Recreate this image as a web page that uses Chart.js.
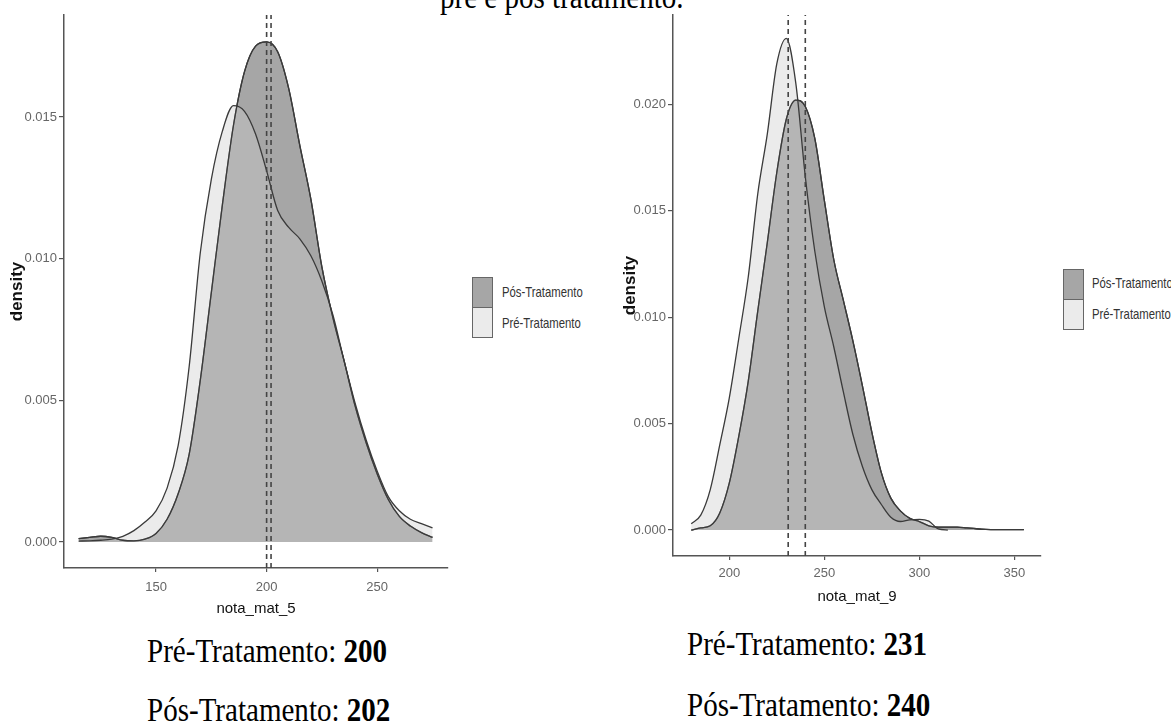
<!DOCTYPE html>
<html>
<head>
<meta charset="utf-8">
<script src="https://cdn.jsdelivr.net/npm/chart.js@4.4.1/dist/chart.umd.min.js"></script>
<style>
  body { margin: 0; width: 1171px; height: 725px; background: #fff; position: relative; overflow: hidden; }
  .caixa { position: absolute; top: 0; }
  .serif { position: absolute; font-family: 'Liberation Serif', 'Times New Roman', serif; font-size: 33px; line-height: 33px;
           color: #000; white-space: nowrap; transform: scaleX(0.88); transform-origin: left top; }
  .chave { position: absolute; width: 21px; height: 31px; box-sizing: border-box; border: 1.5px solid #666; }
  .rotulo { position: absolute; font-family: 'Liberation Sans', Arial, sans-serif; font-size: 14.5px; line-height: 31px;
            color: #333; white-space: nowrap; transform: scaleX(0.78); transform-origin: left top; }
</style>
</head>
<body>
<div class="serif" style="left:440px; top:-19px">pré e pós tratamento.</div>

<div class="caixa" style="left:0px"><canvas id="grafico5" width="460" height="620"></canvas></div>
<div class="caixa" style="left:600px"><canvas id="grafico9" width="455" height="610"></canvas></div>

<!-- legendas (estilo ggplot) -->
<div class="chave" style="left:472px; top:277px; background:#a6a6a6"></div>
<div class="chave" style="left:472px; top:307px; background:#ebebeb"></div>
<div class="rotulo" style="left:502px; top:277px">Pós-Tratamento</div>
<div class="rotulo" style="left:502px; top:308px">Pré-Tratamento</div>

<div class="chave" style="left:1063px; top:269px; background:#a6a6a6"></div>
<div class="chave" style="left:1063px; top:299px; background:#ebebeb"></div>
<div class="rotulo" style="left:1092px; top:268px">Pós-Tratamento</div>
<div class="rotulo" style="left:1092px; top:299px">Pré-Tratamento</div>

<div class="serif" id="pre5" style="left:147px; top:635px"></div>
<div class="serif" id="pos5" style="left:147px; top:694px"></div>
<div class="serif" id="pre9" style="left:687px; top:628px"></div>
<div class="serif" id="pos9" style="left:687px; top:689px"></div>

<script>
// nota_mat_5
const notas5 = [115, 120, 125, 130, 135, 140, 145, 150, 155, 160, 165, 170, 175, 180, 185, 190, 195,
                200, 205, 210, 215, 220, 225, 230, 235, 240, 245, 250, 255, 260, 265, 270, 275];
const densPre5 = [0.00003, 0.00004, 0.00006, 0.0001, 0.0002, 0.0004, 0.0007, 0.0011, 0.0019, 0.0034, 0.0062,
                  0.0102, 0.0128, 0.0145, 0.0154, 0.0152, 0.0144, 0.0131, 0.0117, 0.0111, 0.0107, 0.0101,
                  0.0092, 0.0080, 0.0064, 0.0049, 0.0036, 0.0025, 0.0016, 0.0011, 0.0008, 0.00065, 0.0005];
const densPos5 = [0.00012, 0.00016, 0.0002, 0.00016, 0.00006, 0.00004, 0.0001, 0.0003, 0.0008, 0.0017, 0.0031,
                  0.0057, 0.0088, 0.0119, 0.0147, 0.0166, 0.0175, 0.01765, 0.0173, 0.0160, 0.0140, 0.0121,
                  0.0097, 0.0079, 0.0064, 0.0048, 0.0035, 0.0024, 0.0015, 0.0009, 0.00056, 0.00033, 0.00016];
const medias5 = [200, 202];
const ticksX5 = [150, 200, 250];
const ticksY5 = [0, 0.005, 0.010, 0.015];

// nota_mat_9
const notas9 = [180, 185, 190, 195, 200, 205, 210, 215, 220, 225, 230, 235, 240, 245, 250, 255, 260, 265,
                270, 275, 280, 285, 290, 295, 300, 305, 310, 315, 320, 325, 330, 335, 340, 345, 350, 355];
const densPre9 = [0.0003, 0.0007, 0.0019, 0.0040, 0.0062, 0.0090, 0.0119, 0.0158, 0.0186, 0.0219, 0.0231, 0.0210,
                  0.0166, 0.0131, 0.0105, 0.0086, 0.0065, 0.0045, 0.0030, 0.0019, 0.0012, 0.0006, 0.0004, 0.00048,
                  0.0005, 0.00042, 0.00005, 0, null, null, null, null, null, null, null, null];
const densPos9 = [0, 0.0001, 0.0002, 0.0008, 0.0022, 0.0044, 0.0070, 0.0103, 0.0135, 0.0168, 0.0193, 0.0202,
                  0.0199, 0.0184, 0.0155, 0.0127, 0.0108, 0.0089, 0.0068, 0.0046, 0.0027, 0.0015, 0.0009, 0.00055,
                  0.0004, 0.0002, 0.00014, 0.00014, 0.00014, 0.0001, 0.00006, 0.00003, 0.00002, 0.00002, 0.00002, 0.00002];
const medias9 = [231, 240];
const ticksX9 = [200, 250, 300, 350];
const ticksY9 = [0, 0.005, 0.010, 0.015, 0.020];

const corPos = '#a6a6a6';
const corPre = 'rgba(204, 204, 204, 0.4)';
const corLinha = '#3a3a3a';
const fonteEixo = "'Liberation Sans', Arial, sans-serif";

function pontos(xs, ys) {
    return xs.map((x, i) => ({ x: x, y: ys[i] }));
}

function graficoDensidade(id, cfg) {
    const ctx = document.getElementById(id).getContext('2d');

    const datasets = [
        { label: 'Pós-Tratamento', data: pontos(cfg.notas, cfg.pos), backgroundColor: corPos,
          borderColor: corLinha, borderWidth: 1.3, fill: 'origin', order: 4 },
        { label: 'Pré-Tratamento', data: pontos(cfg.notas, cfg.pre), backgroundColor: corPre,
          borderColor: corLinha, borderWidth: 1.3, fill: 'origin', order: 3 },
        // contorno do pós por cima do preenchimento do pré
        { label: 'Pós-Tratamento (contorno)', data: pontos(cfg.notas, cfg.pos),
          borderColor: corLinha, borderWidth: 1.3, fill: false, order: 2 }
    ];
    cfg.medias.forEach(m => datasets.push({
        label: 'média ' + m, data: [{ x: m, y: cfg.yMin }, { x: m, y: cfg.yMax }],
        borderColor: '#444', borderDash: [5, 4], borderWidth: 1.6, fill: false, order: 1,
        tension: 0, cubicInterpolationMode: 'default'
    }));

    return new Chart(ctx, {
        type: 'line',
        data: { datasets: datasets },
        options: {
            responsive: false,
            animation: false,
            layout: { padding: cfg.padding },
            elements: {
                point: { radius: 0 },
                line: { tension: 0.4, cubicInterpolationMode: 'monotone' }
            },
            plugins: {
                legend: { display: false },
                tooltip: { enabled: false }
            },
            scales: {
                x: {
                    type: 'linear', min: cfg.xMin, max: cfg.xMax,
                    afterBuildTicks: axis => { axis.ticks = cfg.ticksX.map(v => ({ value: v })); },
                    afterFit: axis => { axis.height = cfg.alturaX; },
                    grid: { drawOnChartArea: false, drawTicks: true, tickLength: 4, color: '#555', lineWidth: 1.2 },
                    border: { display: true, color: '#555', width: 1.5 },
                    ticks: { color: '#666', padding: cfg.padTickX, maxRotation: 0, font: { family: fonteEixo, size: 13 } },
                    title: { display: true, text: cfg.tituloX, color: '#111',
                             padding: { top: 0, bottom: cfg.padTituloX }, font: { family: fonteEixo, size: 15 } }
                },
                y: {
                    min: cfg.yMin, max: cfg.yMax,
                    afterBuildTicks: axis => { axis.ticks = cfg.ticksY.map(v => ({ value: v })); },
                    afterFit: axis => { axis.width = cfg.larguraY; },
                    grid: { drawOnChartArea: false, drawTicks: true, tickLength: 5, color: '#555', lineWidth: 1.2 },
                    border: { display: true, color: '#555', width: 1.5 },
                    ticks: { color: '#666', padding: 2, font: { family: fonteEixo, size: 13 },
                             callback: v => v.toFixed(3) },
                    title: { display: true, text: 'density', color: '#111',
                             padding: { top: cfg.padTituloY, bottom: 0 },
                             font: { family: fonteEixo, size: 17, weight: 'bold' } }
                }
            }
        }
    });
}

graficoDensidade('grafico5', {
    notas: notas5, pre: densPre5, pos: densPos5, medias: medias5,
    ticksX: ticksX5, ticksY: ticksY5,
    xMin: 108.4, xMax: 282, yMin: -0.00092, yMax: 0.0186,
    tituloX: 'nota_mat_5',
    padding: { left: 0, top: 15, right: 12, bottom: 0 },
    larguraY: 64, alturaX: 52, padTickX: 8, padTituloX: 2, padTituloY: 7
});

graficoDensidade('grafico9', {
    notas: notas9, pre: densPre9, pos: densPos9, medias: medias9,
    ticksX: ticksX9, ticksY: ticksY9,
    xMin: 170.4, xMax: 364, yMin: -0.00122, yMax: 0.0242,
    tituloX: 'nota_mat_9',
    padding: { left: 0, top: 15, right: 14, bottom: 0 },
    larguraY: 73, alturaX: 54, padTickX: 6, padTituloX: 4, padTituloY: 20
});

// valores médios abaixo de cada gráfico
document.getElementById('pre5').innerHTML = 'Pré-Tratamento: <b>' + medias5[0] + '</b>';
document.getElementById('pos5').innerHTML = 'Pós-Tratamento: <b>' + medias5[1] + '</b>';
document.getElementById('pre9').innerHTML = 'Pré-Tratamento: <b>' + medias9[0] + '</b>';
document.getElementById('pos9').innerHTML = 'Pós-Tratamento: <b>' + medias9[1] + '</b>';
</script>
</body>
</html>
